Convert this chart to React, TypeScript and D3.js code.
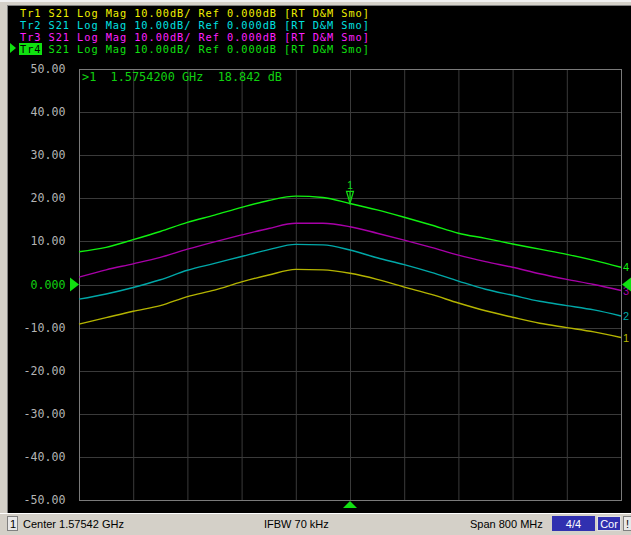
import * as d3 from 'd3';

// frequency points in GHz (center 1.57542, span 800 MHz)
const freqs = [
  1.17542, 1.21542, 1.25542, 1.29542, 1.33542, 1.37542, 1.41542, 1.45542, 1.49542, 1.53542, 1.57542,
  1.61542, 1.65542, 1.69542, 1.73542, 1.77542, 1.81542, 1.85542, 1.89542, 1.93542, 1.97542,
];

const tr1 = [-9.2, -7.7, -6.2, -4.9, -2.8, -1.3, 0.6, 2.2, 3.5, 3.4, 2.6, 1.2, -0.6, -2.3, -4.3, -6.1, -7.6, -9.0, -10.0, -11.0, -12.3];
const tr2 = [-3.4, -2.2, -0.7, 1.1, 3.3, 4.9, 6.5, 8.1, 9.3, 9.2, 8.0, 6.2, 4.6, 2.8, 0.8, -1.1, -2.5, -3.9, -4.9, -5.9, -7.3];
const tr3 = [1.7, 3.4, 4.8, 6.3, 8.2, 9.9, 11.5, 13.0, 14.2, 14.2, 13.4, 11.9, 10.3, 8.6, 6.8, 5.3, 4.0, 2.5, 1.2, 0.0, -1.4];
const tr4 = [7.6, 8.6, 10.4, 12.3, 14.4, 16.1, 17.9, 19.5, 20.5, 20.2, 18.8, 17.3, 15.6, 13.8, 11.9, 10.7, 9.4, 8.2, 7.0, 5.6, 4.0];

const yTicks = [50, 40, 30, 20, 10, 0, -10, -20, -30, -40, -50];
const yTickLabels = ['50.00', '40.00', '30.00', '20.00', '10.00', '0.000', '-10.00', '-20.00', '-30.00', '-40.00', '-50.00'];
const xDivisions = d3.range(0, 11);

const headerRest = ' S21 Log Mag 10.00dB/ Ref 0.000dB [RT D&M Smo]';

const traces = [
  { name: 'Tr1', id: '1', values: tr1, text: '#f0f000', line: '#b4b400' },
  { name: 'Tr2', id: '2', values: tr2, text: '#00e0e0', line: '#00a8a8' },
  { name: 'Tr3', id: '3', values: tr3, text: '#ff20ff', line: '#a800a8' },
  { name: 'Tr4', id: '4', values: tr4, text: '#10e010', line: '#10f010' },
];

const markerFreq = 1.57542;
const markerValue = 18.842;
const markerText = '>1  1.5754200 GHz  18.842 dB';

const mono = '"DejaVu Sans Mono", monospace';
const sans = '"Liberation Sans", Arial, sans-serif';
const charW = 7.14;
const headSize = 10.3;
const headSpacing = charW - 0.602 * headSize;

export default function App() {
  const width = 631;
  const height = 535;
  const plot = { left: 79, right: 621, top: 69, bottom: 500 };

  const x = d3.scaleLinear().domain([freqs[0], freqs[freqs.length - 1]]).range([plot.left, plot.right]);
  const y = d3.scaleLinear().domain([-50, 50]).range([plot.bottom, plot.top]);
  const xDiv = d3.scaleLinear().domain([0, 10]).range([plot.left, plot.right]);

  const line = d3
    .line<number>()
    .x((_, i) => x(freqs[i]))
    .y((v) => y(v))
    .curve(d3.curveMonotoneX);

  const mx = x(markerFreq);
  const my = y(markerValue);
  const y0 = y(0);
  const last = freqs.length - 1;

  const headStyle = { whiteSpace: 'pre' as const, letterSpacing: `${headSpacing}px` };

  return (
    <svg width={width} height={height} style={{ position: 'absolute', left: 0, top: 0 }}>
      <rect x={0} y={0} width={width} height={height} fill="#d4d0c8" />
      <rect x={0} y={0} width={width} height={2} fill="#f0f0f0" />
      <rect x={7} y={5} width={width - 7} height={508} fill="#000" />
      <line x1={7} x2={width} y1={5.5} y2={5.5} stroke="#808080" />
      <line x1={7.5} x2={7.5} y1={5} y2={513} stroke="#808080" />

      {/* header */}
      {traces.map((t, i) => {
        const by = 17 + i * 12;
        const active = i === 3;
        if (!active) {
          return (
            <text key={t.name} x={20} y={by} fontFamily={mono} fontSize={headSize} fill={t.text} style={headStyle}>
              {t.name + headerRest}
            </text>
          );
        }
        return (
          <g key={t.name}>
            <path d={`M10,${by - 10} L16,${by - 5} L10,${by} Z`} fill="#10e010" />
            <rect x={19} y={by - 10} width={23} height={12} fill="#10e010" />
            <text x={20} y={by} fontFamily={mono} fontSize={headSize} fill="#000" style={headStyle}>
              {t.name}
            </text>
            <text x={20 + 4 * charW} y={by} fontFamily={mono} fontSize={headSize} fill={t.text} style={headStyle}>
              {headerRest.trimStart()}
            </text>
          </g>
        );
      })}

      {/* grid */}
      {xDivisions.map((d) => (
        <line key={`gx${d}`} x1={xDiv(d) + 0.5} x2={xDiv(d) + 0.5} y1={plot.top} y2={plot.bottom} stroke="#3a3a3a" />
      ))}
      {yTicks.map((t) => (
        <line key={`gy${t}`} x1={plot.left} x2={plot.right} y1={Math.round(y(t)) + 0.5} y2={Math.round(y(t)) + 0.5} stroke="#3a3a3a" />
      ))}
      <rect
        x={plot.left + 0.5}
        y={plot.top + 0.5}
        width={plot.right - plot.left}
        height={plot.bottom - plot.top}
        fill="none"
        stroke="#7a7a7a"
      />

      {/* y labels */}
      {yTicks.map((t, i) => (
        <text
          key={`yl${t}`}
          x={65.5}
          y={y(t) + 4}
          textAnchor="end"
          fontFamily={mono}
          fontSize={11.6}
          fill={t === 0 ? '#10d010' : '#b4b4b4'}
        >
          {yTickLabels[i]}
        </text>
      ))}

      {/* traces */}
      {traces.map((t) => (
        <path key={`p${t.name}`} d={line(t.values) ?? ''} fill="none" stroke={t.line} strokeWidth={1.4} />
      ))}

      {/* trace end labels */}
      {traces.map((t) => (
        <text
          key={`e${t.name}`}
          x={plot.right + 2}
          y={y(t.values[last]) + 4}
          fontFamily={sans}
          fontSize={11}
          fill={t.line}
        >
          {t.id}
        </text>
      ))}

      {/* marker readout */}
      <text x={82} y={81} fontFamily={mono} fontSize={11.86} fill="#10d010" style={{ whiteSpace: 'pre' }}>
        {markerText}
      </text>

      {/* marker */}
      <g stroke="#10e010" fill="none" strokeWidth={1.2}>
        <path d={`M${mx - 3.5},${my - 12} L${mx + 3.5},${my - 12} L${mx},${my} Z`} />
        <line x1={mx} x2={mx} y1={my - 12} y2={my - 4} />
      </g>
      <text x={mx} y={my - 14} textAnchor="middle" fontFamily={sans} fontSize={10} fill="#10e010">
        1
      </text>

      {/* reference arrows */}
      <path d={`M${plot.left - 9},${y0 - 7} L${plot.left},${y0} L${plot.left - 9},${y0 + 7} Z`} fill="#10e010" />
      <path d={`M${width},${y0 - 7} L${plot.right + 1},${y0} L${width},${y0 + 7} Z`} fill="#10e010" />
      <path d={`M${mx - 7},${plot.bottom + 8} L${mx},${plot.bottom + 1} L${mx + 7},${plot.bottom + 8} Z`} fill="#10e010" />

      {/* status bar */}
      <line x1={0} x2={width} y1={513.5} y2={513.5} stroke="#ffffff" />
      <rect x={7.5} y={516.5} width={10} height={14} fill="#e8e8e8" stroke="#808080" />
      <text x={10} y={528} fontFamily={sans} fontSize={11} fill="#000">
        1
      </text>
      <text x={23} y={528} fontFamily={sans} fontSize={11} fill="#000">
        Center 1.57542 GHz
      </text>
      <text x={264} y={528} fontFamily={sans} fontSize={11} fill="#000">
        IFBW 70 kHz
      </text>
      <text x={470} y={528} fontFamily={sans} fontSize={11} fill="#000">
        Span 800 MHz
      </text>
      <rect x={552} y={516} width={43} height={15} fill="#3030b0" />
      <text x={573.5} y={528} textAnchor="middle" fontFamily={sans} fontSize={11} fill="#fff">
        4/4
      </text>
      <rect x={597.5} y={516.5} width={23} height={14} fill="#3030b0" stroke="#e0e0e0" />
      <text x={609} y={528} textAnchor="middle" fontFamily={sans} fontSize={11} fill="#fff">
        Cor
      </text>
      <rect x={623.5} y={516.5} width={10} height={14} fill="#e8e8e8" stroke="#808080" />
      <text x={626} y={528} fontFamily={sans} fontSize={11} fill="#000">
        !
      </text>
    </svg>
  );
}
